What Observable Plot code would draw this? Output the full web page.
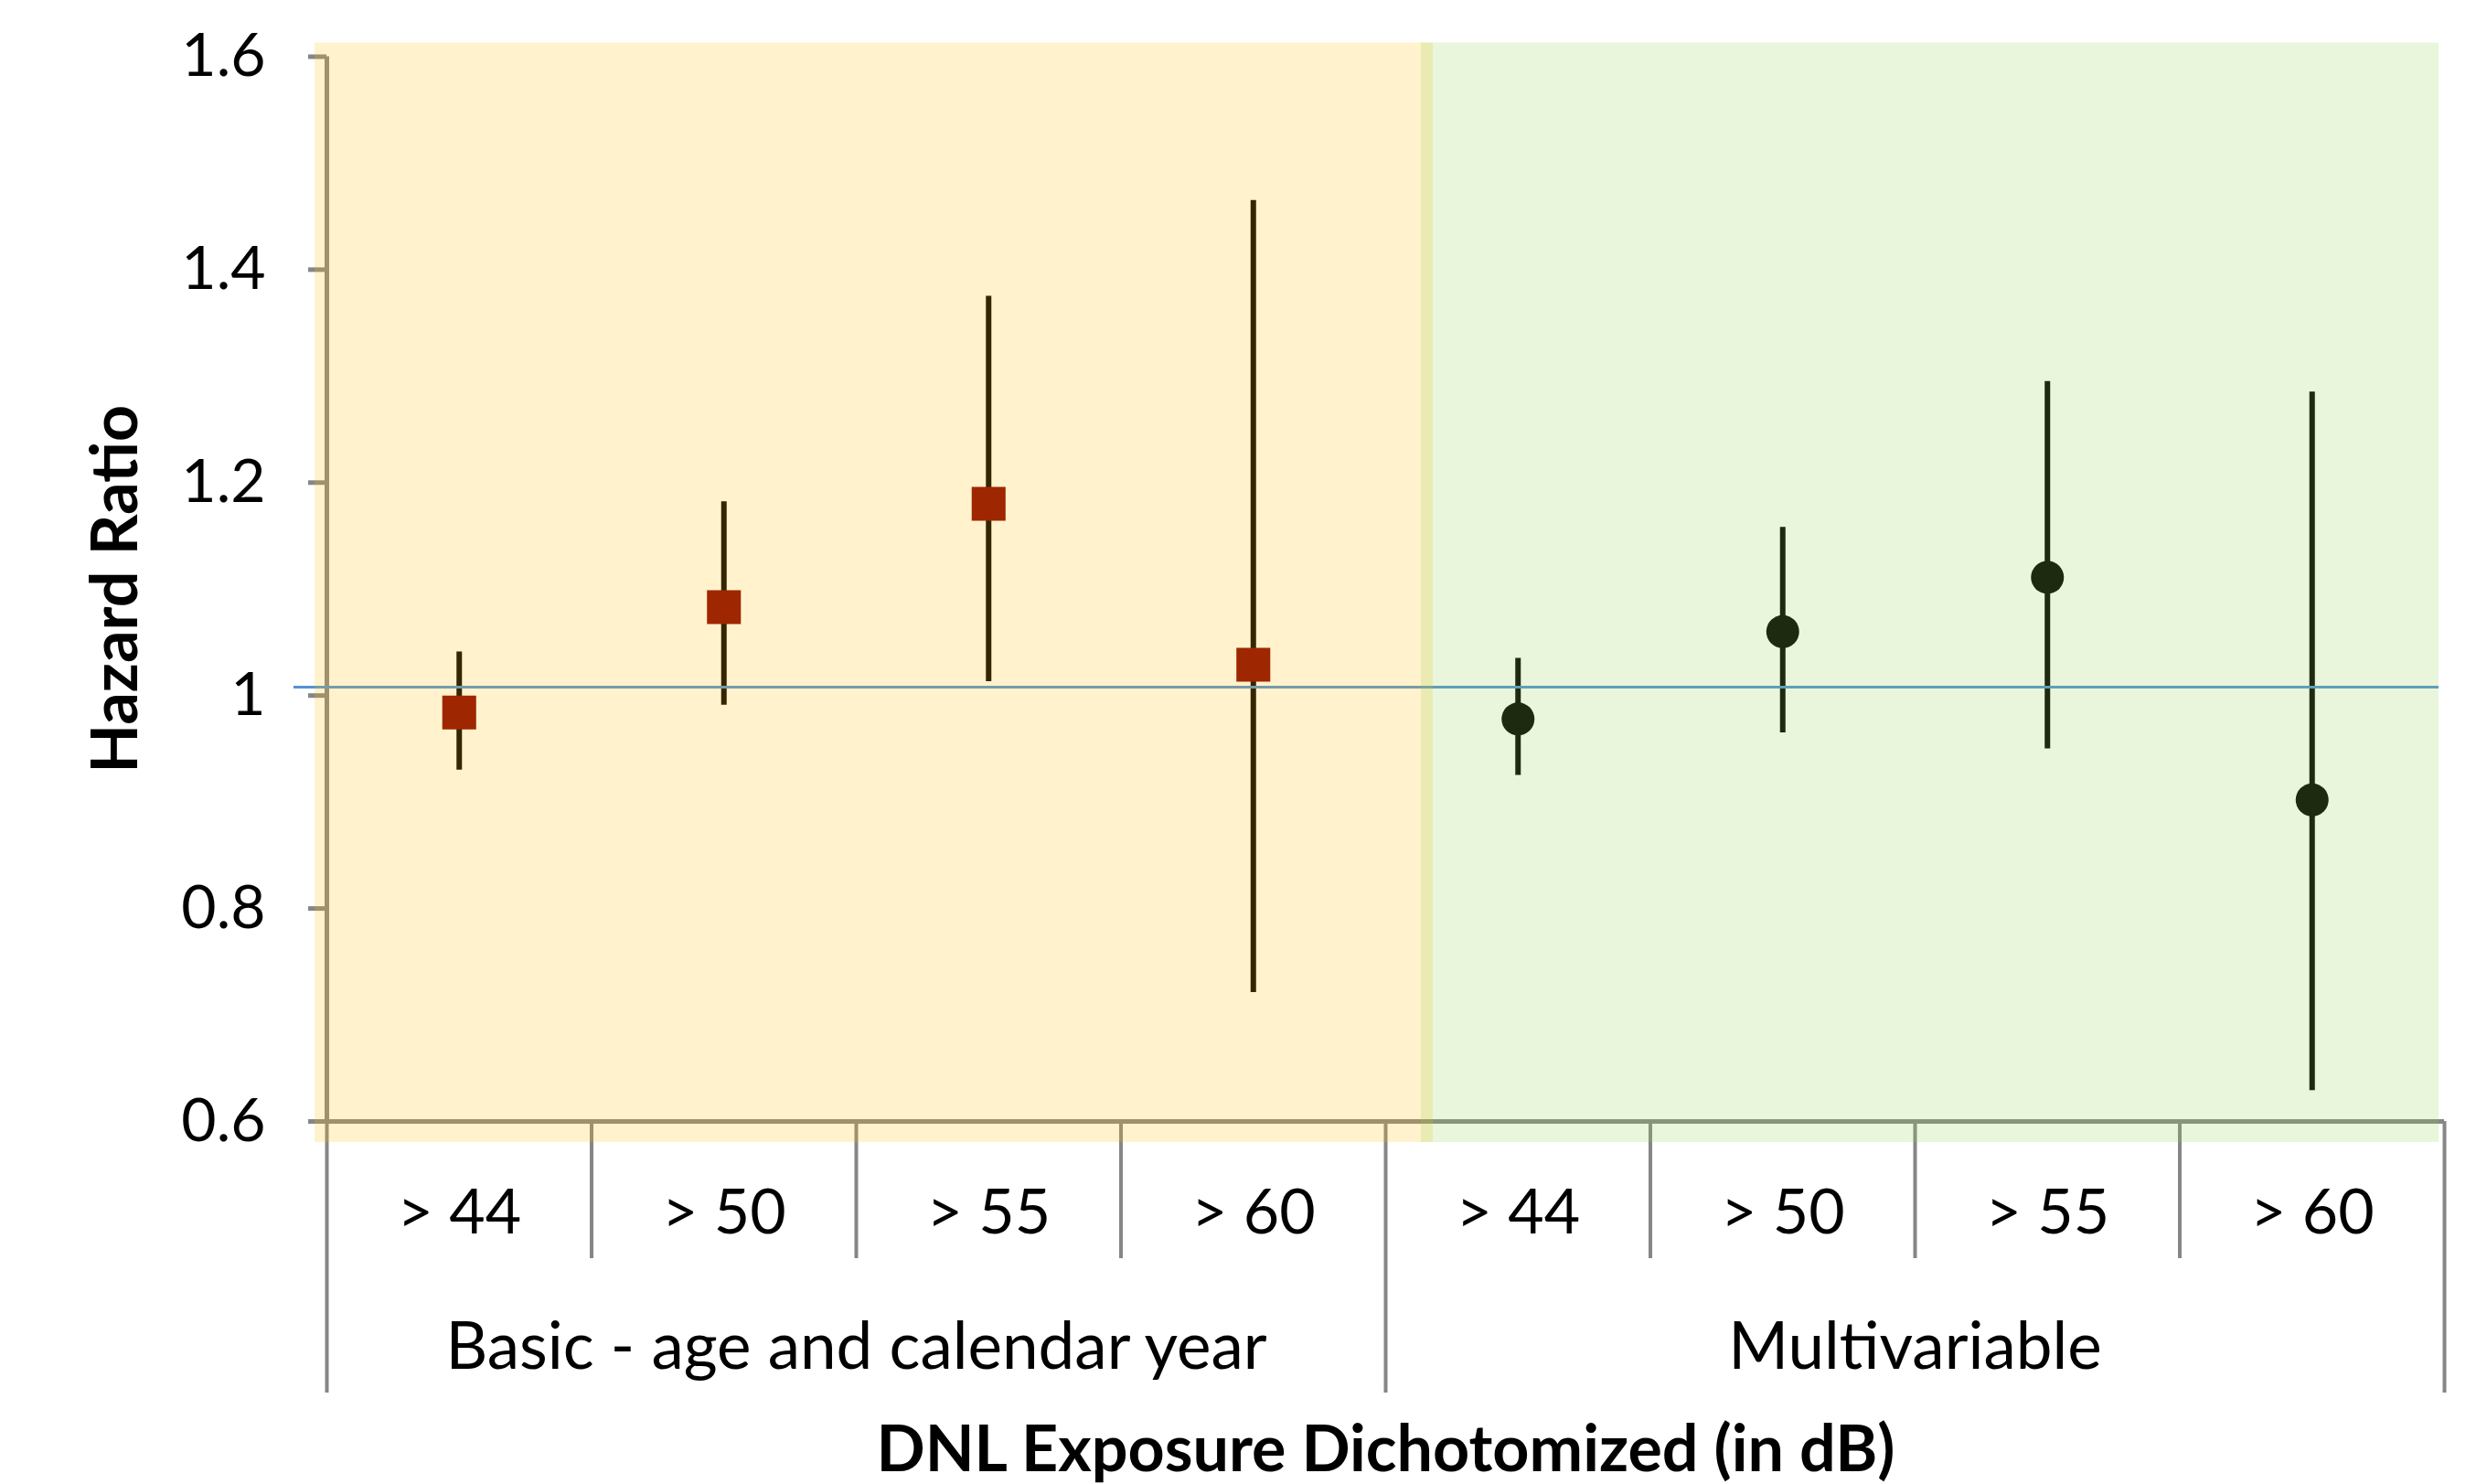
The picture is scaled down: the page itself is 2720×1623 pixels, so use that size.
<!DOCTYPE html>
<html><head><meta charset="utf-8">
<script src="https://cdn.jsdelivr.net/npm/d3@7"></script>
<script src="https://cdn.jsdelivr.net/npm/@observablehq/plot@0.6"></script>
<style>html,body{margin:0;padding:0;background:#fff;} #chart svg{display:block}</style>
</head><body><div id="chart"></div>
<script>
const categories = ["> 44", "> 50", "> 55", "> 60"];
const groups = ["Basic - age and calendar year", "Multivariable"];
const basicHR   = [0.984, 1.083, 1.180, 1.029];
const basicLow  = [0.930, 0.991, 1.013, 0.721];
const basicHigh = [1.041, 1.182, 1.375, 1.465];
const multiHR   = [0.978, 1.060, 1.111, 0.902];
const multiLow  = [0.925, 0.965, 0.950, 0.629];
const multiHigh = [1.035, 1.158, 1.295, 1.285];
const yTicks = [0.6, 0.8, 1.0, 1.2, 1.4, 1.6];
const referenceHR = 1.008;
const xTitle = "DNL Exposure Dichotomized (in dB)";
const yTitle = "Hazard Ratio";

const series = [
  {hr: basicHR, lo: basicLow, hi: basicHigh},
  {hr: multiHR, lo: multiLow, hi: multiHigh}
];
const nCat = categories.length;
const rows = [];
groups.forEach((g, gi) => {
  categories.forEach((c, ci) => {
    rows.push({group: g, gi, cat: c, pos: gi * nCat + ci + 0.5,
      hr: series[gi].hr[ci], lo: series[gi].lo[ci], hi: series[gi].hi[ci]});
  });
});
const groupRows = groups.map((g, gi) => ({group: g, x1: gi * nCat, x2: (gi + 1) * nCat, center: gi * nCat + nCat / 2}));
const dividers = d3.range(0, groups.length * nCat + 1);
const bigDividers = dividers.filter(d => d % nCat === 0);
const smallDividers = dividers.filter(d => d % nCat !== 0);
const yMin = d3.min(yTicks), yMax = d3.max(yTicks);
const xMax = groups.length * nCat;
const gray = "#868686";
const font = "Lato, 'Open Sans', sans-serif";

const chart = Plot.plot({
  width: 2720, height: 1623,
  marginLeft: 357, marginRight: 47, marginTop: 61.5, marginBottom: 397,
  x: {domain: [0, xMax], axis: null},
  y: {domain: [yMin, yMax], axis: null},
  style: {fontFamily: font, color: "#000", background: "#fff"},
  marks: [
    Plot.axisY({ticks: yTicks, tickSize: 20, tickPadding: 47, tickFormat: d3.format("~g"),
      stroke: gray, strokeWidth: 5, fontSize: 66, label: null}),
    Plot.ruleX([0], {y1: yMin, y2: yMax, stroke: gray, strokeWidth: 5}),
    Plot.ruleY([yMin], {x1: 0, x2: xMax, stroke: gray, strokeWidth: 5}),
    Plot.ruleX(smallDividers, {x: d => d, y1: yMin, y2: yMin, insetBottom: -150, stroke: gray, strokeWidth: 4}),
    Plot.ruleX(bigDividers, {x: d => d, y1: yMin, y2: yMin, insetBottom: -297, stroke: gray, strokeWidth: 4}),
    Plot.ruleX(rows, {x: "pos", y1: "lo", y2: "hi", stroke: "#000", strokeWidth: 6}),
    Plot.dot(rows.filter(d => d.gi === 0), {x: "pos", y: "hr", symbol: "square", r: 20.9, fill: "#860000"}),
    Plot.dot(rows.filter(d => d.gi === 1), {x: "pos", y: "hr", symbol: "circle", r: 18, fill: "#000"}),
    Plot.ruleY([referenceHR], {x1: 0, x2: xMax, insetLeft: -36, insetRight: 6, stroke: "#5592d2", strokeWidth: 3}),
    Plot.text(rows, {x: "pos", text: "cat", frameAnchor: "bottom", dy: 101, fontSize: 68, lineAnchor: "middle"}),
    Plot.text(groupRows, {x: "center", text: "group", frameAnchor: "bottom", dy: 248, fontSize: 71, lineAnchor: "middle"}),
    Plot.text([xTitle], {frameAnchor: "bottom", dy: 360, fontWeight: "bold", fontSize: 70, lineAnchor: "middle", textAnchor: "middle"}),
    Plot.text([yTitle], {frameAnchor: "left", dx: -230, rotate: -90, fontWeight: "bold", fontSize: 70, lineAnchor: "middle", textAnchor: "middle"}),
    Plot.rect(groupRows.filter((d, i) => i === 0), {x1: "x1", x2: "x2", y1: yMin, y2: yMax,
      insetLeft: -13, insetRight: -52, insetTop: -15, insetBottom: -23, fill: "#FFC000", fillOpacity: 0.2}),
    Plot.rect(groupRows.filter((d, i) => i === 1), {x1: "x1", x2: "x2", y1: yMin, y2: yMax,
      insetLeft: 39, insetRight: 6, insetTop: -15, insetBottom: -23, fill: "#92D050", fillOpacity: 0.2})
  ]
});
document.getElementById("chart").appendChild(chart);
</script>
</body></html>
